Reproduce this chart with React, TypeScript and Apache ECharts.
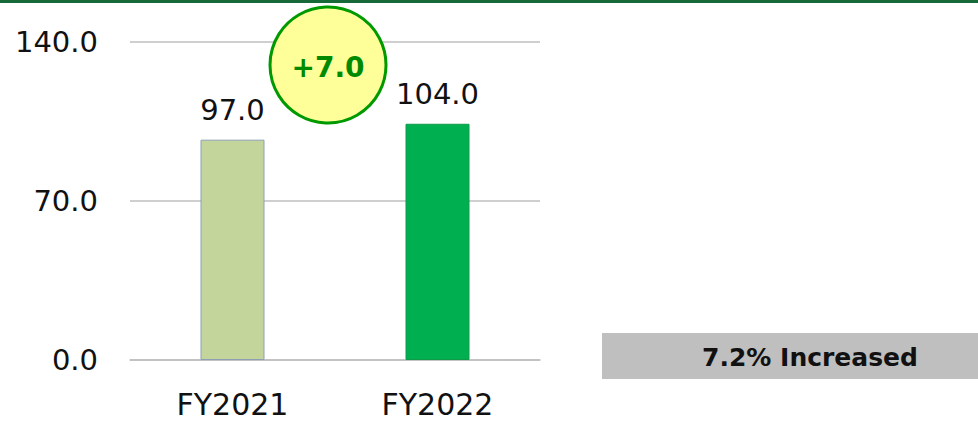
import React, { useEffect, useRef } from "react";
import * as echarts from "echarts";

const categories = ["FY2021", "FY2022"];
const values = [97.0, 104.0];
const barColors = ["#c4d59b", "#00b050"];
const barBorders = ["#8da0b3", "#0f9a4a"];
const yTicks = { min: 0, max: 140, interval: 70 };
const diffText = "+7.0";
const summaryText = "7.2% Increased";

const FONT = "'DejaVu Sans', Verdana, sans-serif";

export default function App() {
  const ref = useRef<HTMLDivElement>(null);
  useEffect(() => {
    document.body.style.margin = "0";
    const chart = echarts.init(ref.current!, null, { renderer: "svg" });
    chart.setOption({
      animation: false,
      backgroundColor: "#ffffff",
      grid: { left: 130, right: 438, top: 42, bottom: 61, containLabel: false },
      xAxis: {
        type: "category",
        data: categories,
        axisLine: { show: true, lineStyle: { color: "#bfbfbf", width: 1.5 } },
        axisTick: { show: false },
        axisLabel: { color: "#111", fontSize: 30, fontFamily: FONT, margin: 29 },
      },
      yAxis: {
        type: "value",
        min: yTicks.min,
        max: yTicks.max,
        interval: yTicks.interval,
        axisLine: { show: false },
        axisTick: { show: false },
        splitLine: { lineStyle: { color: "#bfbfbf", width: 1.5 } },
        axisLabel: {
          color: "#111",
          fontSize: 29,
          fontFamily: FONT,
          margin: 32,
          formatter: (v: number) => v.toFixed(1),
        },
      },
      series: [
        {
          type: "bar",
          barWidth: 64,
          data: values.map((v, i) => ({
            value: v,
            itemStyle: { color: barColors[i], borderColor: barBorders[i], borderWidth: 1 },
          })),
          label: {
            show: true,
            position: "top",
            distance: 15,
            color: "#111",
            fontSize: 29,
            fontFamily: FONT,
            formatter: (p: any) => Number(p.value).toFixed(1),
          },
        },
      ],
      graphic: [
        { type: "rect", shape: { x: 0, y: 0, width: 978, height: 3 }, style: { fill: "#17693a" } },
        {
          type: "circle",
          shape: { cx: 328, cy: 65, r: 58 },
          style: { fill: "#ffff99", stroke: "#009a00", lineWidth: 3 },
          z: 10,
        },
        {
          type: "text",
          x: 328,
          y: 67,
          style: {
            text: diffText,
            fill: "#008a00",
            font: `bold 28px ${FONT}`,
            align: "center",
            verticalAlign: "middle",
          },
          z: 11,
        },
        { type: "rect", shape: { x: 602, y: 333, width: 376, height: 46 }, style: { fill: "#bfbfbf" } },
        {
          type: "text",
          x: 810,
          y: 357,
          style: {
            text: summaryText,
            fill: "#111",
            font: `bold 25px ${FONT}`,
            align: "center",
            verticalAlign: "middle",
          },
        },
      ],
    });
    return () => chart.dispose();
  }, []);
  return <div ref={ref} style={{ width: 978, height: 421 }} />;
}
